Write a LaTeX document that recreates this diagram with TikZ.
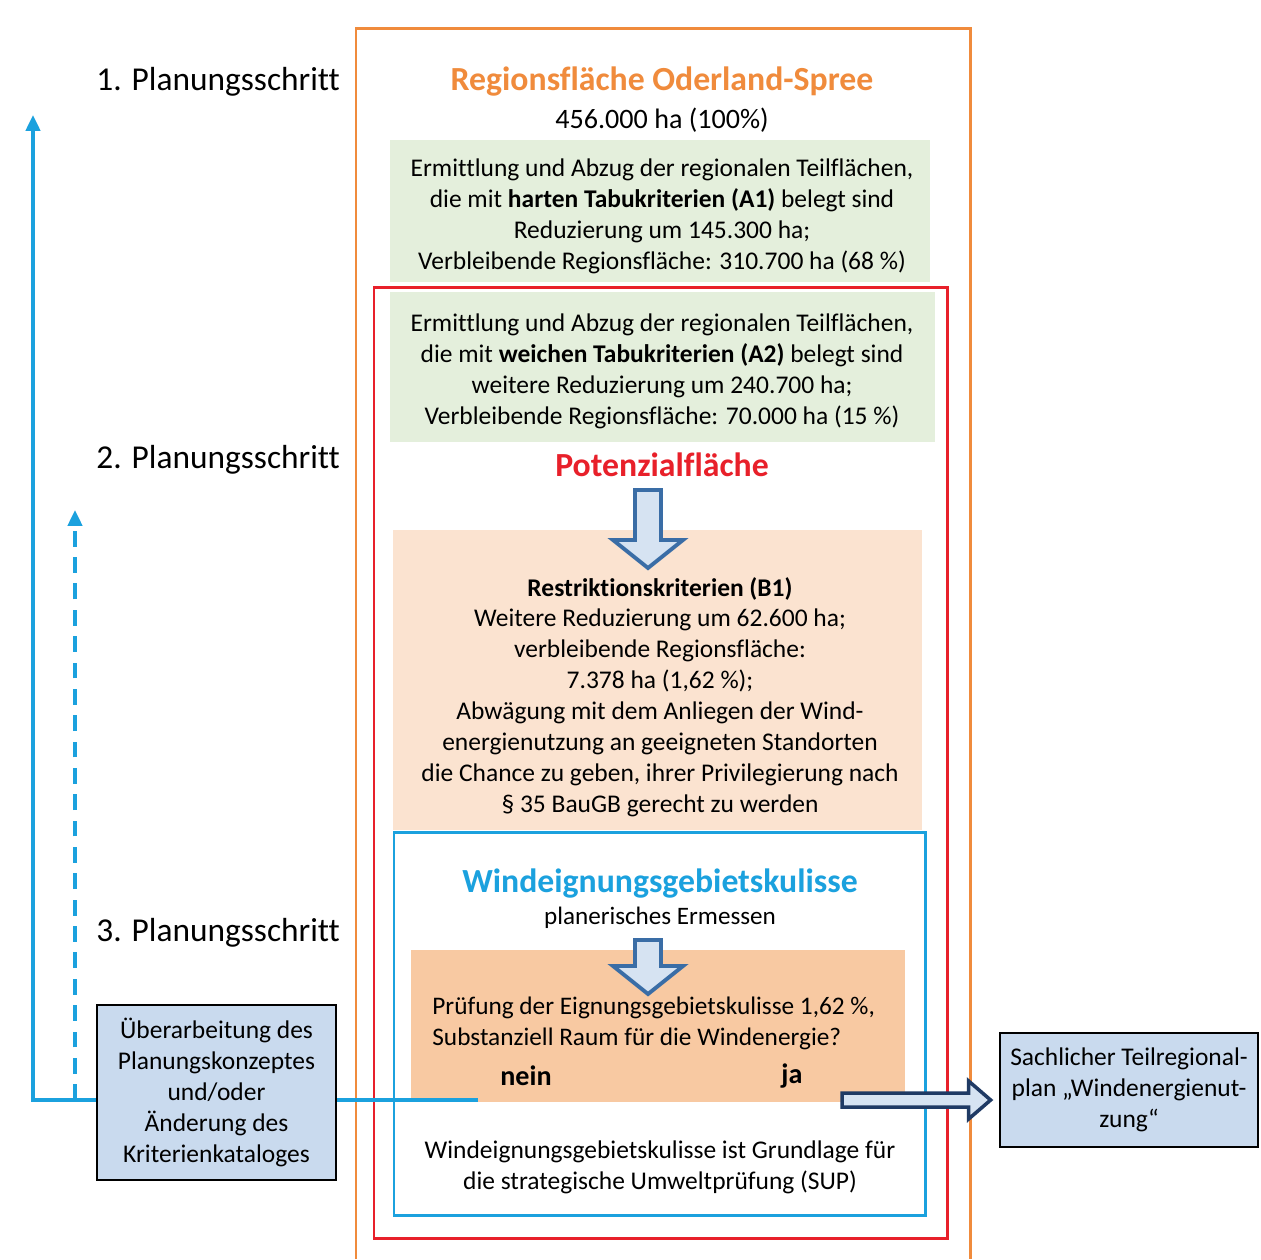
\documentclass[tikz,border=0pt]{standalone}
\usepackage{fontspec}
\setmainfont{Carlito}[Ligatures=NoCommon]
\usetikzlibrary{arrows.meta,calc,positioning}

\definecolor{rahmenorange}{HTML}{F08B3C}
\definecolor{rahmenrot}{HTML}{E8202A}
\definecolor{windblau}{HTML}{1BA1DE}
\definecolor{tabugruen}{HTML}{E4EFDC}
\definecolor{restpfirsich}{HTML}{FBE3D0}
\definecolor{pruefpfirsich}{HTML}{F8C9A2}
\definecolor{kastenblau}{HTML}{C9DAEE}
\definecolor{pfeilrand}{HTML}{3A6DA6}
\definecolor{pfeilfuell}{HTML}{D6E3F2}
\definecolor{janavy}{HTML}{1F3A64}

\tikzset{
  txt/.style={align=center, font=\fontsize{14.5}{17.6}\selectfont, inner sep=0pt},
  schritt/.style={anchor=west, font=\fontsize{19}{22}\selectfont, inner sep=0pt},
  titel/.style={font=\fontsize{19.2}{22}\selectfont\bfseries, inner sep=0pt},
  kasten/.style={draw=black, line width=1.6pt, fill=kastenblau, align=center,
    font=\fontsize{14.5}{17.6}\selectfont, inner sep=0pt},
  blockpfeil/.style={draw=pfeilrand, line width=2.2pt, fill=pfeilfuell, line join=miter},
  rueck/.style={draw=windblau, line width=2.2pt},
}
% Blockpfeil nach unten: Startpunkt, Schaftlaenge
\newcommand\blockrunter[2]{
  \draw[blockpfeil] (#1) ++(-13,0) -- ++(26,0) -- ++(0,#2) -- ++(22,0)
    -- ++(-35,28) -- ++(-35,-28) -- ++(22,0) -- cycle;
}

\begin{document}
\begin{tikzpicture}[x=0.02cm,y=-0.02cm]
\useasboundingbox[fill=white] (0,0) rectangle (1261,1259);

% Flaechen
\fill[tabugruen] (390,140) rectangle (930,282);
\fill[tabugruen] (390,292) rectangle (935,442);
\fill[restpfirsich] (393,530) rectangle (922,830);
\fill[pruefpfirsich] (411,950) rectangle (905,1102);

% Rahmen
\draw[rahmenorange, line width=1.7pt] (356,1259) -- (356,28) -- (970,28) -- (970,1259);
\draw[rahmenrot, line width=1.7pt] (374,287) rectangle (947,1238);
\draw[windblau, line width=1.7pt] (394,832) rectangle (925,1215);

% Planungsschritte
\node[schritt] (schritt1) at (96,82) {1. Planungsschritt};
\node[schritt] (schritt2) at (96,460) {2. Planungsschritt};
\node[schritt] (schritt3) at (96,933) {3. Planungsschritt};

% Schritt 1
\node[titel, text=rahmenorange] (region) at (662,82) {Regionsfläche Oderland-Spree};
\node[txt, font=\fontsize{16}{18}\selectfont] (flaeche) at (662,120) {456.000 ha (100\%)};
\node[txt] (tabuhart) at (662,216) {Ermittlung und Abzug der regionalen Teilflächen,\\
  die mit \textbf{harten Tabukriterien (A1)} belegt sind\\
  Reduzierung um 145.300 ha;\\
  Verbleibende Regionsfläche: 310.700 ha (68 \%)};

% Schritt 2
\node[txt] (tabuweich) at (662,371) {Ermittlung und Abzug der regionalen Teilflächen,\\
  die mit \textbf{weichen Tabukriterien (A2)} belegt sind\\
  weitere Reduzierung um 240.700 ha;\\
  Verbleibende Regionsfläche: 70.000 ha (15 \%)};
\node[titel, text=rahmenrot] (potenzial) at (662,465) {Potenzialfläche};
\node[txt] (restriktion) at (660,697) {\textbf{Restriktionskriterien (B1)}\\
  Weitere Reduzierung um 62.600 ha;\\
  verbleibende Regionsfläche:\\
  7.378 ha (1,62 \%);\\
  Abwägung mit dem Anliegen der Wind-\\
  energienutzung an geeigneten Standorten\\
  die Chance zu geben, ihrer Privilegierung nach\\
  \S\ 35 BauGB gerecht zu werden};
\coordinate (pfeil1) at (648,490);
\blockrunter{pfeil1}{50}

% Schritt 3
\node[titel, text=windblau] (wind) at (660,884) {Windeignungsgebietskulisse};
\node[txt, font=\fontsize{14.3}{17.6}\selectfont] (ermessen) at (660,918) {planerisches Ermessen};
\node[txt, align=left, anchor=west, font=\fontsize{14.4}{17.6}\selectfont] (pruefung) at (432,1023)
  {Prüfung der Eignungsgebietskulisse 1,62 \%,\\
  Substanziell Raum für die Windenergie?};
\node[txt, font=\fontsize{16}{18}\selectfont\bfseries] (nein) at (526,1076) {nein};
\node[txt, font=\fontsize{16}{18}\selectfont\bfseries] (ja) at (792,1076) {ja};
\coordinate (pfeil2) at (648,940);
\blockrunter{pfeil2}{26}
\node[txt] (grundlage) at (660,1167) {Windeignungsgebietskulisse ist Grundlage für\\
  die strategische Umweltprüfung (SUP)};

% Kaesten aussen
\node[kasten, minimum width=4.78cm, minimum height=3.5cm] (ueber) at (216.5,1092.5)
  {Überarbeitung des\\ Planungskonzeptes\\ und/oder\\ Änderung des\\ Kriterienkataloges};
\node[kasten, minimum width=5.16cm, minimum height=2.28cm] (teilplan) at (1129,1090)
  {Sachlicher Teilregional-\\ plan „Windenergienut-\\ zung“};

% Rueckkopplung
\coordinate (neinende) at (478,1100);
\coordinate (zurueck1) at (33,115);
\coordinate (zurueck2) at (75,510);
\draw[rueck] (ueber.east |- neinende) -- (neinende);
\draw[rueck, -{Triangle[length=9pt,width=8pt]}] (ueber.west |- neinende) -| (zurueck1);
\draw[rueck, dash pattern=on 9pt off 6pt, -{Triangle[length=9pt,width=8pt]}] (zurueck2 |- neinende) -- (zurueck2);

% ja-Pfeil
\coordinate (jastart) at (842,1100);
\coordinate (jaspitze) at ($(teilplan.west |- jastart)+(-8,0)$);
\draw[janavy, fill=pfeilfuell, line width=2pt, line join=miter]
  ($(jastart)+(0,-7)$) -- ($(jaspitze)+(-22,-7)$) -- ($(jaspitze)+(-22,-19)$) -- (jaspitze)
  -- ($(jaspitze)+(-22,19)$) -- ($(jaspitze)+(-22,7)$) -- ($(jastart)+(0,7)$) -- cycle;
\end{tikzpicture}
\end{document}
